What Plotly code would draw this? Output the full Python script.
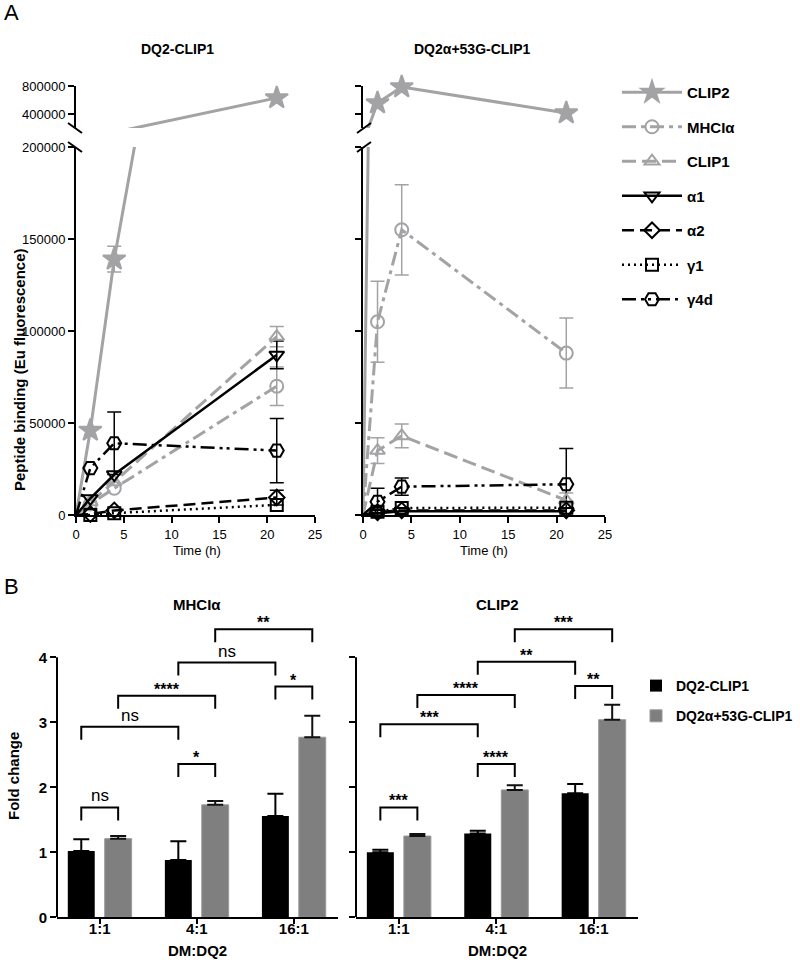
import plotly.graph_objects as go

W, H = 800, 965
FONT = "Arial, 'Liberation Sans', Helvetica, sans-serif"


def fx(px):
    return px / W


def fy(py):
    return 1 - py / H


# ---------------- Panel A data (Eu fluorescence) ----------------
time_h = [0, 1.5, 4, 21]
series_names = ["CLIP2", "MHCIα", "CLIP1", "α1", "α2", "γ1", "γ4d"]

# DQ2-CLIP1
wt_clip2 = [0, 46000, 139000, 630000]
wt_mhc = [0, 6000, 14500, 70000]
wt_clip1 = [0, 7000, 18000, 97000]
wt_a1 = [0, 9000, 22000, 87000]
wt_a2 = [0, 500, 2500, 9500]
wt_g1 = [0, 0, 1000, 5500]
wt_g4d = [0, 25500, 39000, 35000]
wt_clip2_err = [0, 0, 7000, 0]
wt_mhc_err = [0, 0, 0, 10500]
wt_clip1_err = [0, 0, 0, 5500]
wt_a1_err = [0, 0, 0, 7500]
wt_a2_err = [0, 0, 0, 4000]
wt_g1_err = [0, 0, 0, 0]
wt_g4d_err = [0, 0, 17000, 17500]

# DQ2α+53G-CLIP1
mut_clip2 = [0, 557000, 786000, 414000]
mut_mhc = [0, 105000, 155000, 88000]
mut_clip1 = [0, 35000, 43000, 8000]
mut_a1 = [0, 1000, 2000, 2000]
mut_a2 = [0, 1500, 2500, 2500]
mut_g1 = [0, 1800, 3800, 4000]
mut_g4d = [0, 7200, 15400, 16700]
mut_clip2_err = [0, 0, 0, 0]
mut_mhc_err = [0, 22000, 24500, 19000]
mut_clip1_err = [0, 7000, 6500, 4000]
mut_a1_err = [0, 0, 0, 0]
mut_a2_err = [0, 0, 0, 0]
mut_g1_err = [0, 0, 0, 0]
mut_g4d_err = [0, 7300, 4700, 19500]

wt_values = [wt_clip2, wt_mhc, wt_clip1, wt_a1, wt_a2, wt_g1, wt_g4d]
wt_errors = [wt_clip2_err, wt_mhc_err, wt_clip1_err, wt_a1_err, wt_a2_err, wt_g1_err, wt_g4d_err]
mut_values = [mut_clip2, mut_mhc, mut_clip1, mut_a1, mut_a2, mut_g1, mut_g4d]
mut_errors = [mut_clip2_err, mut_mhc_err, mut_clip1_err, mut_a1_err, mut_a2_err, mut_g1_err, mut_g4d_err]

# ---------------- Panel B data (fold change) ----------------
ratios = ["1:1", "4:1", "16:1"]
ratio_idx = [0, 1, 2]
mhc_black = [1.02, 0.88, 1.56]
mhc_black_err = [0.18, 0.29, 0.34]
mhc_gray = [1.21, 1.73, 2.77]
mhc_gray_err = [0.04, 0.06, 0.33]
clip2_black = [1.00, 1.29, 1.91]
clip2_black_err = [0.04, 0.04, 0.14]
clip2_gray = [1.25, 1.96, 3.04]
clip2_gray_err = [0.03, 0.07, 0.23]

# significance brackets: (group A, series A, group B, series B)
bracket_pairs = [(0, 0, 0, 1), (1, 0, 1, 1), (0, 0, 1, 0), (0, 1, 1, 1),
                 (2, 0, 2, 1), (1, 0, 2, 0), (1, 1, 2, 1)]
mhc_bracket_y = [1.69, 2.36, 2.93, 3.41, 3.55, 3.92, 4.43]
mhc_labels = ["ns", "*", "ns", "****", "*", "ns", "**"]
clip2_bracket_y = [1.69, 2.36, 2.97, 3.42, 3.56, 3.93, 4.43]
clip2_labels = ["***", "****", "***", "****", "**", "**", "***"]

# ---------------- styles ----------------
GRAY = "#a3a3a6"
BLACK = "#000000"
styles = [
    dict(color=GRAY, width=3, dash="solid", symbol="star", size=17),
    dict(color=GRAY, width=3, dash="14px,5px,4px,5px", symbol="circle-open", size=13),
    dict(color=GRAY, width=3, dash="14px,6px", symbol="triangle-up-open", size=13),
    dict(color=BLACK, width=2.5, dash="solid", symbol="triangle-down-open", size=13),
    dict(color=BLACK, width=2.5, dash="12px,6px", symbol="diamond-open", size=12),
    dict(color=BLACK, width=2.5, dash="2px,4px", symbol="square-open", size=12),
    dict(color=BLACK, width=2.5, dash="14px,5px,3px,4px,3px,5px", symbol="hexagon2-open", size=14),
]


def line_of(st):
    return dict(color=st["color"], width=st["width"], dash=st["dash"])


def marker_of(st):
    return dict(symbol=st["symbol"], size=st["size"], color=st["color"],
                line=dict(color=st["color"], width=2))


fig = go.Figure()

LOW_DOM = [fy(515), fy(147)]
UP_DOM = [fy(128), fy(86)]
LOW_RANGE = [0, 200000]
UP_RANGE = [200000, 800000]

# legend entries
for name, st in zip(series_names, styles):
    fig.add_trace(go.Scatter(x=[None], y=[None], mode="lines+markers", name=name,
                             line=line_of(st), marker=marker_of(st), legend="legend",
                             legendgroup=name, hoverinfo="skip"))

panels = [
    dict(x="x", ylow="y", yup="y2", values=wt_values, errors=wt_errors),
    dict(x="x2", ylow="y3", yup="y4", values=mut_values, errors=mut_errors),
]

for p in panels:
    # error bars (only where an error is visible)
    for vals, errs, st in zip(p["values"], p["errors"], styles):
        ex = [t for t, e in zip(time_h, errs) if e > 0]
        ey = [v for v, e in zip(vals, errs) if e > 0]
        ee = [e for e in errs if e > 0]
        if ex:
            fig.add_trace(go.Scatter(
                x=ex, y=ey, mode="markers", marker=dict(size=1, opacity=0),
                error_y=dict(type="data", array=ee, color=st["color"], thickness=1.5, width=7),
                xaxis=p["x"], yaxis=p["ylow"], showlegend=False, hoverinfo="skip", cliponaxis=False))
    for name, vals, st in zip(series_names, p["values"], styles):
        for ya, rng in ((p["ylow"], LOW_RANGE), (p["yup"], UP_RANGE)):
            # connecting line through all time points (clipped to the segment)
            fig.add_trace(go.Scatter(
                x=time_h, y=vals, mode="lines", line=line_of(st),
                xaxis=p["x"], yaxis=ya, showlegend=False, hoverinfo="skip"))
            # markers for the measured points that fall in this axis segment
            mx = [t for t, v in zip(time_h, vals) if t > 0 and rng[0] <= v <= rng[1]]
            my = [v for t, v in zip(time_h, vals) if t > 0 and rng[0] <= v <= rng[1]]
            if mx:
                fig.add_trace(go.Scatter(
                    x=mx, y=my, mode="markers", marker=marker_of(st), name=name,
                    xaxis=p["x"], yaxis=ya, showlegend=False, hoverinfo="skip", cliponaxis=False))

# ---------------- bars ----------------
BARGAP, BARGROUPGAP = 0.24, 0.27
half = (1 - BARGAP) / 4


def bar_x(g, s):
    return g + (-half if s == 0 else half)


bar_panels = [
    dict(x="x3", y="y5", black=mhc_black, black_err=mhc_black_err, gray=mhc_gray,
         gray_err=mhc_gray_err, by=mhc_bracket_y, labels=mhc_labels, legend=True),
    dict(x="x4", y="y6", black=clip2_black, black_err=clip2_black_err, gray=clip2_gray,
         gray_err=clip2_gray_err, by=clip2_bracket_y, labels=clip2_labels, legend=False),
]
annotations = []
LEG = 0.2
for bp in bar_panels:
    fig.add_trace(go.Bar(
        x=ratio_idx, y=bp["black"], name="DQ2-CLIP1", marker=dict(color="black", line=dict(width=0)),
        error_y=dict(type="data", array=bp["black_err"], arrayminus=[0] * 3, symmetric=False,
                     color="black", thickness=2, width=8),
        xaxis=bp["x"], yaxis=bp["y"], legend="legend2", legendgroup="wt",
        showlegend=bp["legend"], hoverinfo="skip"))
    fig.add_trace(go.Bar(
        x=ratio_idx, y=bp["gray"], name="DQ2α+53G-CLIP1",
        marker=dict(color="#7f7f7f", line=dict(width=1, color="#9a9a9a")),
        error_y=dict(type="data", array=bp["gray_err"], arrayminus=[0] * 3, symmetric=False,
                     color="#111111", thickness=2, width=8),
        xaxis=bp["x"], yaxis=bp["y"], legend="legend2", legendgroup="mut",
        showlegend=bp["legend"], hoverinfo="skip"))
    bx, byy = [], []
    for (g0, s0, g1, s1), yt, lab in zip(bracket_pairs, bp["by"], bp["labels"]):
        x0, x1 = bar_x(g0, s0), bar_x(g1, s1)
        bx += [x0, x0, x1, x1, None]
        byy += [yt - LEG, yt, yt, yt - LEG, None]
        is_ns = lab == "ns"
        annotations.append(dict(
            x=(x0 + x1) / 2, y=yt, xref=bp["x"], yref=bp["y"], text=lab if is_ns else "<b>%s</b>" % lab,
            showarrow=False, yanchor="bottom", yshift=0 if is_ns else -4,
            font=dict(family=FONT, size=17 if is_ns else 16, color="black")))
    fig.add_trace(go.Scatter(x=bx, y=byy, mode="lines", line=dict(color="black", width=2),
                             xaxis=bp["x"], yaxis=bp["y"], showlegend=False, hoverinfo="skip"))

# ---------------- axes ----------------
top_axis = dict(showline=True, linecolor="black", linewidth=2, ticks="outside", ticklen=6,
                tickwidth=2, tickcolor="black", showgrid=False, zeroline=False, automargin=False,
                tickfont=dict(family=FONT, size=13, color="black"))
xt = [0, 5, 10, 15, 20, 25]
low_ticks = [0, 50000, 100000, 150000, 200000]
up_ticks = [400000, 800000]

BAR_DOM = [fy(917.3), fy(917.3 - 4.5 * 65)]
bar_x_axis = dict(showline=True, linecolor="black", linewidth=2, ticks="outside", ticklen=5,
                  tickwidth=2, tickcolor="black", showgrid=False, zeroline=False, automargin=False,
                  range=[-0.44, 2.455], tickvals=ratio_idx, ticktext=["<b>%s</b>" % r for r in ratios],
                  ticklabelstandoff=-8,
                  tickfont=dict(family=FONT, size=15, color="black"))
bar_y_axis = dict(showline=False, ticks="outside", ticklen=6, tickwidth=2, tickcolor="black",
                  showgrid=False, zeroline=False, automargin=False, range=[0, 4.5],
                  tickvals=[0, 1, 2, 3, 4], ticktext=["<b>%d</b>" % v for v in [0, 1, 2, 3, 4]],
                  tickfont=dict(family=FONT, size=15, color="black"), domain=BAR_DOM)

fig.update_layout(
    xaxis=dict(**top_axis, domain=[fx(76), fx(315)], range=[0, 25], tickvals=xt, anchor="y"),
    yaxis=dict(**top_axis, domain=LOW_DOM, range=LOW_RANGE, tickvals=low_ticks, tickformat="d", anchor="x"),
    yaxis2=dict(**top_axis, domain=UP_DOM, range=UP_RANGE, tickvals=up_ticks, tickformat="d", anchor="x"),
    xaxis2=dict(**top_axis, domain=[fx(363), fx(605)], range=[0, 25], tickvals=xt, anchor="y3"),
    yaxis3=dict(**top_axis, domain=LOW_DOM, range=LOW_RANGE, tickvals=low_ticks,
                showticklabels=False, anchor="x2"),
    yaxis4=dict(**top_axis, domain=UP_DOM, range=UP_RANGE, tickvals=up_ticks,
                showticklabels=False, anchor="x2"),
    xaxis3=dict(**bar_x_axis, domain=[fx(57), fx(338)], anchor="y5"),
    yaxis5=dict(**bar_y_axis, anchor="x3"),
    xaxis4=dict(**bar_x_axis, domain=[fx(356), fx(638)], anchor="y6"),
    yaxis6=dict(**bar_y_axis, anchor="x4", showticklabels=False),
)

# axis lines of bar charts (0..4) and axis-break marks
shapes = []
for xr, yr in (("x3", "y5"), ("x4", "y6")):
    shapes.append(dict(type="line", xref=xr + " domain", yref=yr, x0=0, x1=0, y0=0, y1=4,
                       line=dict(color="black", width=2)))
for ax_px, sgn in ((75, 1), (364, -1)):
    for ypx in (128, 147):
        shapes.append(dict(type="line", xref="paper", yref="paper",
                           x0=fx(ax_px - 7), x1=fx(ax_px + 7),
                           y0=fy(ypx - 5 * sgn), y1=fy(ypx + 5 * sgn),
                           line=dict(color="black", width=2)))


def txt(text, xp, yp, size, bold=True, angle=0, xanchor="center", yanchor="middle"):
    return dict(text="<b>%s</b>" % text if bold else text, x=fx(xp), y=fy(yp), xref="paper",
                yref="paper", showarrow=False, textangle=angle, xanchor=xanchor, yanchor=yanchor,
                font=dict(family=FONT, size=size, color="black"))


annotations += [
    txt("A", 2, 13, 22, bold=False, xanchor="left"),
    txt("B", 2, 586, 22, bold=False, xanchor="left"),
    txt("DQ2-CLIP1", 177, 49, 14),
    txt("DQ2α+53G-CLIP1", 472, 49, 14),
    txt("Time (h)", 197, 550, 13, bold=False),
    txt("Time (h)", 484, 550, 13, bold=False),
    txt("Peptide binding (Eu fluorescence)", 19, 370, 15, angle=-90),
    txt("MHCIα", 197, 604, 15),
    txt("CLIP2", 497, 604, 15),
    txt("Fold change", 13, 776, 15, angle=-90),
    txt("DM:DQ2", 197, 950, 15),
    txt("DM:DQ2", 497, 950, 15),
]

fig.update_layout(
    template="none",
    width=W, height=H, margin=dict(l=0, r=0, t=0, b=0, autoexpand=False),
    font=dict(family=FONT, color="black"),
    paper_bgcolor="white", plot_bgcolor="white",
    barmode="group", bargap=BARGAP, bargroupgap=BARGROUPGAP,
    annotations=annotations, shapes=shapes,
    legend=dict(x=fx(617), y=fy(76), xanchor="left", yanchor="top", tracegroupgap=12,
                itemwidth=60, bgcolor="rgba(0,0,0,0)", borderwidth=0,
                font=dict(family=FONT, size=15, color="black", weight="bold"), itemclick=False),
    legend2=dict(x=fx(636), y=fy(670), xanchor="left", yanchor="top", tracegroupgap=9,
                 bgcolor="rgba(0,0,0,0)", borderwidth=0,
                 font=dict(family=FONT, size=14, color="black", weight="bold"), itemclick=False),
)

fig.write_html("out.html", config={"displayModeBar": False},
               post_script="document.body.style.margin='0px';document.body.style.padding='0px';")
